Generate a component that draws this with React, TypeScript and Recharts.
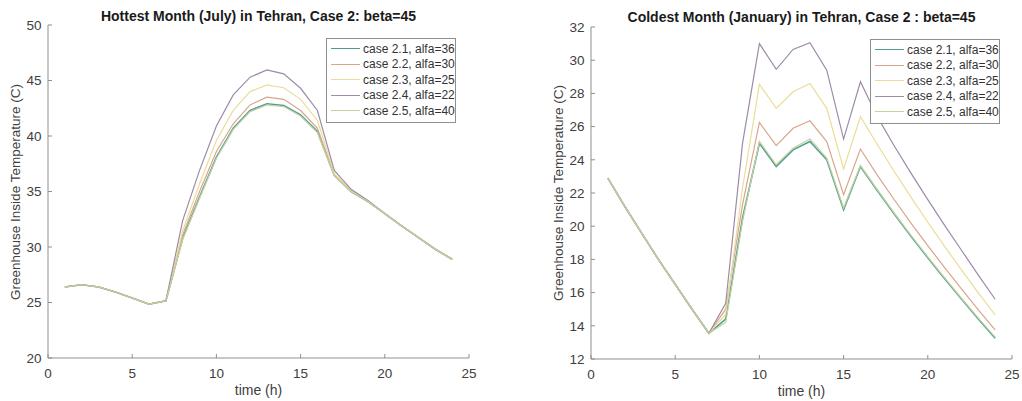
import React from 'react';
import { LineChart, Line, XAxis, YAxis, Legend } from 'recharts';

const hours = [1, 2, 3, 4, 5, 6, 7, 8, 9, 10, 11, 12, 13, 14, 15, 16, 17, 18, 19, 20, 21, 22, 23, 24];

// Hottest month (July)
const julyCase21 = [26.4, 26.6, 26.4, 25.95, 25.4, 24.85, 25.15, 30.8, 34.5, 38.1, 40.7, 42.3, 42.9, 42.75, 41.9, 40.4, 36.45, 35.0, 34.1, 33.0, 31.9, 30.85, 29.8, 28.9];
const julyCase22 = [26.4, 26.6, 26.4, 25.95, 25.4, 24.85, 25.15, 31.1, 35.0, 38.6, 41.1, 42.8, 43.5, 43.3, 42.3, 40.7, 36.5, 35.05, 34.1, 33.0, 31.9, 30.85, 29.8, 28.9];
const julyCase23 = [26.4, 26.6, 26.4, 25.95, 25.4, 24.85, 25.15, 31.5, 35.7, 39.6, 42.3, 44.0, 44.6, 44.35, 43.3, 41.4, 36.6, 35.1, 34.15, 33.0, 31.9, 30.85, 29.8, 28.9];
const julyCase24 = [26.4, 26.6, 26.4, 25.95, 25.4, 24.85, 25.15, 32.4, 36.9, 40.9, 43.7, 45.3, 45.95, 45.6, 44.3, 42.3, 36.9, 35.2, 34.2, 33.0, 31.9, 30.85, 29.8, 28.9];
const julyCase25 = [26.4, 26.6, 26.4, 25.95, 25.4, 24.85, 25.15, 30.7, 34.4, 38.0, 40.6, 42.2, 42.8, 42.65, 41.8, 40.3, 36.4, 35.0, 34.1, 33.0, 31.9, 30.85, 29.8, 28.9];

// Coldest month (January)
const janCase21 = [22.9, 21.2, 19.6, 18.0, 16.5, 15.0, 13.55, 14.4, 20.5, 25.0, 23.6, 24.6, 25.1, 24.0, 21.0, 23.6, 22.15, 20.75, 19.4, 18.1, 16.83, 15.61, 14.41, 13.25];
const janCase22 = [22.9, 21.2, 19.6, 18.0, 16.5, 15.0, 13.55, 15.0, 21.3, 26.25, 24.85, 25.9, 26.35, 25.1, 21.9, 24.65, 23.08, 21.61, 20.19, 18.83, 17.5, 16.22, 14.96, 13.75];
const janCase23 = [22.9, 21.2, 19.6, 18.0, 16.5, 15.0, 13.55, 14.7, 22.3, 28.55, 27.1, 28.1, 28.6, 27.1, 23.45, 26.6, 24.92, 23.31, 21.75, 20.24, 18.78, 17.37, 15.98, 14.65];
const janCase24 = [22.9, 21.2, 19.6, 18.0, 16.5, 15.0, 13.55, 15.35, 25.0, 31.0, 29.45, 30.65, 31.05, 29.4, 25.25, 28.7, 26.6, 24.85, 23.2, 21.6, 20.05, 18.55, 17.05, 15.6];
const janCase25 = [22.9, 21.2, 19.6, 18.0, 16.5, 15.0, 13.55, 14.2, 20.3, 25.1, 23.7, 24.7, 25.25, 24.1, 21.1, 23.65, 22.2, 20.8, 19.45, 18.15, 16.88, 15.66, 14.46, 13.32];

const seriesNames = ['case 2.1, alfa=36', 'case 2.2, alfa=30', 'case 2.3, alfa=25', 'case 2.4, alfa=22', 'case 2.5, alfa=40'];
const seriesKeys = ['s1', 's2', 's3', 's4', 's5'];
const seriesColors = ['#4f9e95', '#d9a58c', '#ecdc98', '#9d8ba8', '#c3d29c'];
const seriesWidths = [1.6, 1.2, 1.2, 1.2, 1.2];

const xTicks = [0, 5, 10, 15, 20, 25];
const julyYTicks = [20, 25, 30, 35, 40, 45, 50];
const janYTicks = [12, 14, 16, 18, 20, 22, 24, 26, 28, 30, 32];

const julyTitle = 'Hottest Month (July) in Tehran, Case 2: beta=45';
const janTitle = 'Coldest Month (January) in Tehran, Case 2 : beta=45';
const xLabel = 'time (h)';
const yLabel = 'Greenhouse Inside Temperature (C)';

const julyData = hours.map((h, i) => ({
  h,
  s1: julyCase21[i],
  s2: julyCase22[i],
  s3: julyCase23[i],
  s4: julyCase24[i],
  s5: julyCase25[i],
}));

const janData = hours.map((h, i) => ({
  h,
  s1: janCase21[i],
  s2: janCase22[i],
  s3: janCase23[i],
  s4: janCase24[i],
  s5: janCase25[i],
}));

const FONT = '"Liberation Sans", Arial, Helvetica, sans-serif';
const AXIS = '#8f8f8f';
const TXT = '#404040';

type LegendPos = { left: number; top: number; lineW: number };

const makeLegend = (pos: LegendPos) => (props: any) => {
  const payload = props.payload || [];
  return (
    <div
      style={{
        background: '#fff',
        border: `1px solid ${AXIS}`,
        padding: '2px 0 3px 4px',
        width: 124,
        fontFamily: FONT,
        fontSize: 12,
        color: '#333',
        boxSizing: 'content-box',
      }}
    >
      {payload.map((p: any, i: number) => {
        const idx = seriesKeys.indexOf(String(p.dataKey));
        const color = idx >= 0 ? seriesColors[idx] : p.color;
        return (
          <div key={i} style={{ display: 'flex', alignItems: 'center', height: 15.5, whiteSpace: 'nowrap' }}>
            <div style={{ width: pos.lineW, height: 1.4, background: color, marginRight: 3, flex: 'none' }} />
            <span>{p.value}</span>
          </div>
        );
      })}
    </div>
  );
};

type PanelProps = {
  data: any[];
  yTicks: number[];
  yDomain: [number, number];
  width: number;
  height: number;
  top: number;
  right: number;
  yAxisWidth: number;
  xAxisHeight: number;
  bottom: number;
  legend: LegendPos;
};

function Panel(p: PanelProps) {
  return (
    <LineChart
      width={p.width}
      height={p.height}
      data={p.data}
      margin={{ top: p.top, right: p.right, left: 0, bottom: p.bottom }}
    >
      <XAxis
        xAxisId="b"
        dataKey="h"
        type="number"
        domain={[0, 25]}
        ticks={xTicks}
        interval={0}
        allowDataOverflow
        height={p.xAxisHeight}
        tickSize={-4}
        tickMargin={14}
        axisLine={{ stroke: AXIS }}
        tickLine={{ stroke: AXIS }}
        tick={{ fill: TXT, fontSize: 13.5, fontFamily: FONT }}
      />
      <XAxis
        xAxisId="t"
        orientation="top"
        dataKey="h"
        type="number"
        domain={[0, 25]}
        ticks={xTicks}
        interval={0}
        allowDataOverflow
        height={0}
        tickSize={-4}
        tickFormatter={() => ''}
        axisLine={{ stroke: AXIS }}
        tickLine={{ stroke: AXIS }}
      />
      <YAxis
        yAxisId="l"
        type="number"
        domain={p.yDomain}
        ticks={p.yTicks}
        interval={0}
        allowDataOverflow
        width={p.yAxisWidth}
        tickSize={-4}
        tickMargin={10.5}
        axisLine={{ stroke: AXIS }}
        tickLine={{ stroke: AXIS }}
        tick={{ fill: TXT, fontSize: 13.5, fontFamily: FONT }}
      />
      <YAxis
        yAxisId="r"
        orientation="right"
        type="number"
        domain={p.yDomain}
        ticks={p.yTicks}
        interval={0}
        allowDataOverflow
        width={0}
        tickSize={-4}
        tickFormatter={() => ''}
        axisLine={{ stroke: AXIS }}
        tickLine={{ stroke: AXIS }}
      />
      {seriesKeys.map((k, i) => (
        <Line
          key={k}
          xAxisId="b"
          yAxisId="l"
          type="linear"
          dataKey={k}
          name={seriesNames[i]}
          stroke={seriesColors[i]}
          strokeWidth={seriesWidths[i]}
          dot={false}
          activeDot={false}
          isAnimationActive={false}
        />
      ))}
      <Legend
        layout="vertical"
        align="center"
        verticalAlign="middle"
        content={makeLegend(p.legend)}
        wrapperStyle={{ left: p.legend.left, top: p.legend.top, width: 130, height: 82 }}
      />
    </LineChart>
  );
}

export default function App() {
  return (
    <div style={{ position: 'absolute', left: 0, top: 0, width: 1022, height: 401, background: '#fff', overflow: 'hidden' }}>
      <div style={{ position: 'absolute', left: 0, top: 0 }}>
        <Panel
          data={julyData}
          yTicks={julyYTicks}
          yDomain={[20, 50]}
          width={510}
          height={401}
          top={25}
          right={41}
          yAxisWidth={48}
          xAxisHeight={30}
          bottom={13}
          legend={{ left: 326, top: 38, lineW: 29 }}
        />
      </div>
      <div style={{ position: 'absolute', left: 510, top: 0 }}>
        <Panel
          data={janData}
          yTicks={janYTicks}
          yDomain={[12, 32]}
          width={512}
          height={401}
          top={27}
          right={10}
          yAxisWidth={81}
          xAxisHeight={30}
          bottom={12}
          legend={{ left: 360, top: 39, lineW: 29 }}
        />
      </div>
      <svg
        width={1022}
        height={401}
        style={{ position: 'absolute', left: 0, top: 0, pointerEvents: 'none' }}
        fontFamily={FONT}
      >
        <text x={258.5} y={16} textAnchor="middle" dominantBaseline="central" fontWeight="bold" fontSize={14} fill="#1a1a1a">
          {julyTitle}
        </text>
        <text x={801.5} y={17} textAnchor="middle" dominantBaseline="central" fontWeight="bold" fontSize={14} fill="#1a1a1a">
          {janTitle}
        </text>
        <text x={258.5} y={390} textAnchor="middle" dominantBaseline="central" fontSize={14} fill={TXT}>
          {xLabel}
        </text>
        <text x={801.5} y={391} textAnchor="middle" dominantBaseline="central" fontSize={14} fill={TXT}>
          {xLabel}
        </text>
        <text x={15} y={192} textAnchor="middle" dominantBaseline="central" fontSize={13.5} fill={TXT} transform="rotate(-90 15 192)">
          {yLabel}
        </text>
        <text x={558} y={193} textAnchor="middle" dominantBaseline="central" fontSize={13.5} fill={TXT} transform="rotate(-90 558 193)">
          {yLabel}
        </text>
      </svg>
    </div>
  );
}
